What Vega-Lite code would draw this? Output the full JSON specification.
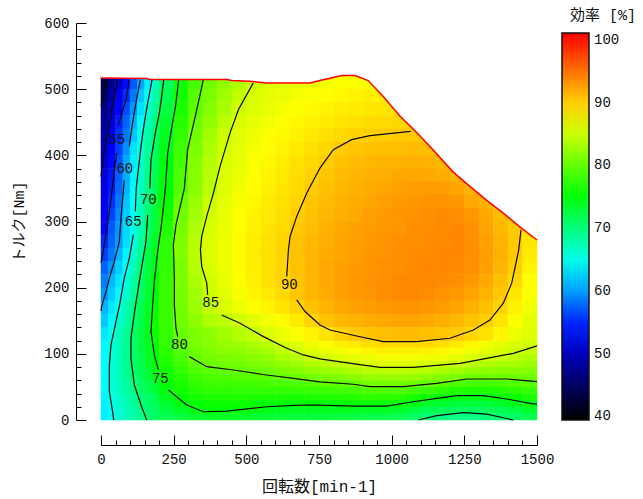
{"$schema":"https://vega.github.io/schema/vega-lite/v6.json","width":436,"height":397,"autosize":{"type":"none"},"padding":{"left":101,"top":23,"right":106,"bottom":79},"background":"white","config":{"view":{"stroke":null},"font":"Liberation Mono, Noto Sans CJK JP"},
"datasets":{
"fine":[
{"x":12.5,"y":510,"e":43.5},{"x":37.5,"y":510,"e":47.4},{"x":62.5,"y":510,"e":50.7},{"x":87.5,"y":510,"e":53.8},{"x":112.5,"y":510,"e":57},{"x":137.5,"y":510,"e":60.3},{"x":162.5,"y":510,"e":63.4},{"x":187.5,"y":510,"e":66.5},
{"x":12.5,"y":490,"e":45.3},{"x":37.5,"y":490,"e":48.7},{"x":62.5,"y":490,"e":52},{"x":87.5,"y":490,"e":55.2},{"x":112.5,"y":490,"e":58.4},{"x":137.5,"y":490,"e":61.5},{"x":162.5,"y":490,"e":64.7},{"x":187.5,"y":490,"e":67.7},
{"x":12.5,"y":470,"e":46.6},{"x":37.5,"y":470,"e":50},{"x":62.5,"y":470,"e":53.4},{"x":87.5,"y":470,"e":56.5},{"x":112.5,"y":470,"e":59.6},{"x":137.5,"y":470,"e":62.8},{"x":162.5,"y":470,"e":65.9},{"x":187.5,"y":470,"e":68.9},
{"x":12.5,"y":450,"e":47.5},{"x":37.5,"y":450,"e":51},{"x":62.5,"y":450,"e":54.6},{"x":87.5,"y":450,"e":57.6},{"x":112.5,"y":450,"e":60.6},{"x":137.5,"y":450,"e":63.8},{"x":162.5,"y":450,"e":66.9},{"x":187.5,"y":450,"e":69.7},
{"x":12.5,"y":430,"e":48.7},{"x":37.5,"y":430,"e":52.2},{"x":62.5,"y":430,"e":55.5},{"x":87.5,"y":430,"e":58.5},{"x":112.5,"y":430,"e":61.6},{"x":137.5,"y":430,"e":65.2},{"x":162.5,"y":430,"e":67.9},{"x":187.5,"y":430,"e":70.5},
{"x":12.5,"y":410,"e":50},{"x":37.5,"y":410,"e":53},{"x":62.5,"y":410,"e":56},{"x":87.5,"y":410,"e":59.4},{"x":112.5,"y":410,"e":62.7},{"x":137.5,"y":410,"e":65.8},{"x":162.5,"y":410,"e":68.5},{"x":187.5,"y":410,"e":71},
{"x":12.5,"y":390,"e":51},{"x":37.5,"y":390,"e":53.6},{"x":62.5,"y":390,"e":56.8},{"x":87.5,"y":390,"e":60.3},{"x":112.5,"y":390,"e":63.3},{"x":137.5,"y":390,"e":66.3},{"x":162.5,"y":390,"e":69},{"x":187.5,"y":390,"e":71.5},
{"x":12.5,"y":370,"e":51.4},{"x":37.5,"y":370,"e":54.1},{"x":62.5,"y":370,"e":57.3},{"x":87.5,"y":370,"e":60.6},{"x":112.5,"y":370,"e":63.6},{"x":137.5,"y":370,"e":66.5},{"x":162.5,"y":370,"e":69.3},{"x":187.5,"y":370,"e":71.8},
{"x":12.5,"y":350,"e":51.8},{"x":37.5,"y":350,"e":54.5},{"x":62.5,"y":350,"e":57.8},{"x":87.5,"y":350,"e":61},{"x":112.5,"y":350,"e":63.9},{"x":137.5,"y":350,"e":66.7},{"x":162.5,"y":350,"e":69.5},{"x":187.5,"y":350,"e":72},
{"x":12.5,"y":330,"e":52.3},{"x":37.5,"y":330,"e":55.4},{"x":62.5,"y":330,"e":58.5},{"x":87.5,"y":330,"e":61.5},{"x":112.5,"y":330,"e":64.2},{"x":137.5,"y":330,"e":67},{"x":162.5,"y":330,"e":70},{"x":187.5,"y":330,"e":72.5},
{"x":12.5,"y":310,"e":53},{"x":37.5,"y":310,"e":56.2},{"x":62.5,"y":310,"e":59.2},{"x":87.5,"y":310,"e":61.9},{"x":112.5,"y":310,"e":64.4},{"x":137.5,"y":310,"e":67.3},{"x":162.5,"y":310,"e":70.3},{"x":187.5,"y":310,"e":72.7},
{"x":12.5,"y":290,"e":53.6},{"x":37.5,"y":290,"e":57},{"x":62.5,"y":290,"e":59.7},{"x":87.5,"y":290,"e":62.3},{"x":112.5,"y":290,"e":64.9},{"x":137.5,"y":290,"e":67.8},{"x":162.5,"y":290,"e":70.7},{"x":187.5,"y":290,"e":73.1},
{"x":12.5,"y":270,"e":55},{"x":37.5,"y":270,"e":57.5},{"x":62.5,"y":270,"e":60},{"x":87.5,"y":270,"e":62.6},{"x":112.5,"y":270,"e":65.2},{"x":137.5,"y":270,"e":68.2},{"x":162.5,"y":270,"e":71},{"x":187.5,"y":270,"e":73.7},
{"x":12.5,"y":250,"e":56},{"x":37.5,"y":250,"e":58.5},{"x":62.5,"y":250,"e":61},{"x":87.5,"y":250,"e":63.6},{"x":112.5,"y":250,"e":66},{"x":137.5,"y":250,"e":69},{"x":162.5,"y":250,"e":72},{"x":187.5,"y":250,"e":74.5},
{"x":12.5,"y":230,"e":57.5},{"x":37.5,"y":230,"e":59.8},{"x":62.5,"y":230,"e":62},{"x":87.5,"y":230,"e":64.3},{"x":112.5,"y":230,"e":67.2},{"x":137.5,"y":230,"e":70.2},{"x":162.5,"y":230,"e":72.5},{"x":187.5,"y":230,"e":74.8},
{"x":12.5,"y":210,"e":58.7},{"x":37.5,"y":210,"e":61},{"x":62.5,"y":210,"e":63},{"x":87.5,"y":210,"e":65.3},{"x":112.5,"y":210,"e":68},{"x":137.5,"y":210,"e":70.7},{"x":162.5,"y":210,"e":73},{"x":187.5,"y":210,"e":75.2},
{"x":12.5,"y":190,"e":59.8},{"x":37.5,"y":190,"e":61.8},{"x":62.5,"y":190,"e":63.8},{"x":87.5,"y":190,"e":66},{"x":112.5,"y":190,"e":68.7},{"x":137.5,"y":190,"e":71.1},{"x":162.5,"y":190,"e":73.4},{"x":187.5,"y":190,"e":75.5},
{"x":12.5,"y":170,"e":60.9},{"x":37.5,"y":170,"e":63},{"x":62.5,"y":170,"e":65},{"x":87.5,"y":170,"e":67.3},{"x":112.5,"y":170,"e":69.6},{"x":137.5,"y":170,"e":71.7},{"x":162.5,"y":170,"e":73.9},{"x":187.5,"y":170,"e":75.8},
{"x":12.5,"y":150,"e":61.9},{"x":37.5,"y":150,"e":63.8},{"x":62.5,"y":150,"e":65.9},{"x":87.5,"y":150,"e":68},{"x":112.5,"y":150,"e":70.2},{"x":137.5,"y":150,"e":72.2},{"x":162.5,"y":150,"e":74.2},{"x":187.5,"y":150,"e":76},
{"x":12.5,"y":130,"e":63},{"x":37.5,"y":130,"e":64.9},{"x":62.5,"y":130,"e":66.9},{"x":87.5,"y":130,"e":68.8},{"x":112.5,"y":130,"e":70.6},{"x":137.5,"y":130,"e":72.4},{"x":162.5,"y":130,"e":74.2},{"x":187.5,"y":130,"e":76},
{"x":12.5,"y":110,"e":63.8},{"x":37.5,"y":110,"e":65.4},{"x":62.5,"y":110,"e":67.2},{"x":87.5,"y":110,"e":68.9},{"x":112.5,"y":110,"e":70.7},{"x":137.5,"y":110,"e":72.4},{"x":162.5,"y":110,"e":74},{"x":187.5,"y":110,"e":75.7},
{"x":12.5,"y":90,"e":63.9},{"x":37.5,"y":90,"e":65.6},{"x":62.5,"y":90,"e":67.3},{"x":87.5,"y":90,"e":69},{"x":112.5,"y":90,"e":70.6},{"x":137.5,"y":90,"e":72.1},{"x":162.5,"y":90,"e":73.6},{"x":187.5,"y":90,"e":75.1},
{"x":12.5,"y":70,"e":63.9},{"x":37.5,"y":70,"e":65.6},{"x":62.5,"y":70,"e":67.2},{"x":87.5,"y":70,"e":68.8},{"x":112.5,"y":70,"e":70.3},{"x":137.5,"y":70,"e":71.7},{"x":162.5,"y":70,"e":73},{"x":187.5,"y":70,"e":74.4},
{"x":12.5,"y":50,"e":63.9},{"x":37.5,"y":50,"e":65.4},{"x":62.5,"y":50,"e":66.8},{"x":87.5,"y":50,"e":68.2},{"x":112.5,"y":50,"e":69.7},{"x":137.5,"y":50,"e":70.9},{"x":162.5,"y":50,"e":72.1},{"x":187.5,"y":50,"e":73.2},
{"x":12.5,"y":30,"e":63.5},{"x":37.5,"y":30,"e":65},{"x":62.5,"y":30,"e":66.3},{"x":87.5,"y":30,"e":67.5},{"x":112.5,"y":30,"e":68.8},{"x":137.5,"y":30,"e":70},{"x":162.5,"y":30,"e":70.9},{"x":187.5,"y":30,"e":71.7},
{"x":12.5,"y":10,"e":63.4},{"x":37.5,"y":10,"e":64.7},{"x":62.5,"y":10,"e":65.9},{"x":87.5,"y":10,"e":67},{"x":112.5,"y":10,"e":68},{"x":137.5,"y":10,"e":69.3},{"x":162.5,"y":10,"e":70.4},{"x":187.5,"y":10,"e":71}
],
"low":[
{"x":225,"y":5,"e":71.9},{"x":225,"y":15,"e":72.6},{"x":225,"y":25,"e":73.3},{"x":225,"y":35,"e":74.1},{"x":225,"y":45,"e":74.8},{"x":225,"y":55,"e":75.4},{"x":225,"y":65,"e":75.9},{"x":225,"y":75,"e":76.3},{"x":225,"y":85,"e":76.7},{"x":225,"y":95,"e":77},{"x":225,"y":105,"e":77.4},{"x":225,"y":115,"e":77.7},
{"x":275,"y":5,"e":72.6},{"x":275,"y":15,"e":73.7},{"x":275,"y":25,"e":74.8},{"x":275,"y":35,"e":75.4},{"x":275,"y":45,"e":76},{"x":275,"y":55,"e":76.6},{"x":275,"y":65,"e":77.1},{"x":275,"y":75,"e":77.7},{"x":275,"y":85,"e":78.3},{"x":275,"y":95,"e":78.8},{"x":275,"y":105,"e":79.4},{"x":275,"y":115,"e":80},
{"x":325,"y":5,"e":73.3},{"x":325,"y":15,"e":74.8},{"x":325,"y":25,"e":75.6},{"x":325,"y":35,"e":76.3},{"x":325,"y":45,"e":77},{"x":325,"y":55,"e":77.6},{"x":325,"y":65,"e":78.3},{"x":325,"y":75,"e":79},{"x":325,"y":85,"e":79.7},{"x":325,"y":95,"e":80.2},{"x":325,"y":105,"e":80.6},{"x":325,"y":115,"e":81},
{"x":375,"y":5,"e":73.8},{"x":375,"y":15,"e":75.2},{"x":375,"y":25,"e":75.9},{"x":375,"y":35,"e":76.7},{"x":375,"y":45,"e":77.4},{"x":375,"y":55,"e":78.2},{"x":375,"y":65,"e":78.9},{"x":375,"y":75,"e":79.7},{"x":375,"y":85,"e":80.3},{"x":375,"y":95,"e":80.8},{"x":375,"y":105,"e":81.3},{"x":375,"y":115,"e":81.8},
{"x":425,"y":5,"e":73.8},{"x":425,"y":15,"e":75.2},{"x":425,"y":25,"e":75.9},{"x":425,"y":35,"e":76.7},{"x":425,"y":45,"e":77.5},{"x":425,"y":55,"e":78.3},{"x":425,"y":65,"e":79.1},{"x":425,"y":75,"e":79.9},{"x":425,"y":85,"e":80.6},{"x":425,"y":95,"e":81.2},{"x":425,"y":105,"e":81.9},{"x":425,"y":115,"e":82.4},
{"x":475,"y":5,"e":73.7},{"x":475,"y":15,"e":75.1},{"x":475,"y":25,"e":76},{"x":475,"y":35,"e":76.8},{"x":475,"y":45,"e":77.6},{"x":475,"y":55,"e":78.4},{"x":475,"y":65,"e":79.3},{"x":475,"y":75,"e":80.1},{"x":475,"y":85,"e":80.8},{"x":475,"y":95,"e":81.4},{"x":475,"y":105,"e":82.1},{"x":475,"y":115,"e":82.8},
{"x":525,"y":5,"e":73.5},{"x":525,"y":15,"e":74.9},{"x":525,"y":25,"e":75.8},{"x":525,"y":35,"e":76.7},{"x":525,"y":45,"e":77.6},{"x":525,"y":55,"e":78.5},{"x":525,"y":65,"e":79.5},{"x":525,"y":75,"e":80.3},{"x":525,"y":85,"e":81.1},{"x":525,"y":95,"e":81.8},{"x":525,"y":105,"e":82.6},{"x":525,"y":115,"e":83.4},
{"x":575,"y":5,"e":73.1},{"x":575,"y":15,"e":74.4},{"x":575,"y":25,"e":75.5},{"x":575,"y":35,"e":76.6},{"x":575,"y":45,"e":77.6},{"x":575,"y":55,"e":78.6},{"x":575,"y":65,"e":79.7},{"x":575,"y":75,"e":80.6},{"x":575,"y":85,"e":81.5},{"x":575,"y":95,"e":82.4},{"x":575,"y":105,"e":83.2},{"x":575,"y":115,"e":84.1},
{"x":625,"y":5,"e":72.9},{"x":625,"y":15,"e":74.2},{"x":625,"y":25,"e":75.4},{"x":625,"y":35,"e":76.6},{"x":625,"y":45,"e":77.7},{"x":625,"y":55,"e":78.9},{"x":625,"y":65,"e":80.1},{"x":625,"y":75,"e":81.1},{"x":625,"y":85,"e":82.2},{"x":625,"y":95,"e":83.3},{"x":625,"y":105,"e":84.3},{"x":625,"y":115,"e":85.3},
{"x":675,"y":5,"e":72.8},{"x":675,"y":15,"e":74},{"x":675,"y":25,"e":75.3},{"x":675,"y":35,"e":76.5},{"x":675,"y":45,"e":77.8},{"x":675,"y":55,"e":79},{"x":675,"y":65,"e":80.3},{"x":675,"y":75,"e":81.5},{"x":675,"y":85,"e":82.8},{"x":675,"y":95,"e":84.1},{"x":675,"y":105,"e":85.2},{"x":675,"y":115,"e":85.9},
{"x":725,"y":5,"e":72.7},{"x":725,"y":15,"e":74},{"x":725,"y":25,"e":75.3},{"x":725,"y":35,"e":76.7},{"x":725,"y":45,"e":78},{"x":725,"y":55,"e":79.3},{"x":725,"y":65,"e":80.7},{"x":725,"y":75,"e":82.1},{"x":725,"y":85,"e":83.6},{"x":725,"y":95,"e":85},{"x":725,"y":105,"e":85.8},{"x":725,"y":115,"e":86.7},
{"x":775,"y":5,"e":72.7},{"x":775,"y":15,"e":74},{"x":775,"y":25,"e":75.3},{"x":775,"y":35,"e":76.8},{"x":775,"y":45,"e":78.2},{"x":775,"y":55,"e":79.7},{"x":775,"y":65,"e":81.1},{"x":775,"y":75,"e":82.6},{"x":775,"y":85,"e":84.1},{"x":775,"y":95,"e":85.4},{"x":775,"y":105,"e":86.4},{"x":775,"y":115,"e":87.5},
{"x":825,"y":5,"e":72.5},{"x":825,"y":15,"e":74},{"x":825,"y":25,"e":75.4},{"x":825,"y":35,"e":76.9},{"x":825,"y":45,"e":78.4},{"x":825,"y":55,"e":79.8},{"x":825,"y":65,"e":81.4},{"x":825,"y":75,"e":83},{"x":825,"y":85,"e":84.7},{"x":825,"y":95,"e":85.9},{"x":825,"y":105,"e":87},{"x":825,"y":115,"e":88.2},
{"x":875,"y":5,"e":72.3},{"x":875,"y":15,"e":74},{"x":875,"y":25,"e":75.6},{"x":875,"y":35,"e":77.1},{"x":875,"y":45,"e":78.6},{"x":875,"y":55,"e":80.2},{"x":875,"y":65,"e":81.9},{"x":875,"y":75,"e":83.6},{"x":875,"y":85,"e":85.2},{"x":875,"y":95,"e":86.3},{"x":875,"y":105,"e":87.5},{"x":875,"y":115,"e":88.6},
{"x":925,"y":5,"e":72.1},{"x":925,"y":15,"e":73.9},{"x":925,"y":25,"e":75.7},{"x":925,"y":35,"e":77.4},{"x":925,"y":45,"e":79.1},{"x":925,"y":55,"e":80.8},{"x":925,"y":65,"e":82.4},{"x":925,"y":75,"e":84.1},{"x":925,"y":85,"e":85.5},{"x":925,"y":95,"e":86.7},{"x":925,"y":105,"e":87.9},{"x":925,"y":115,"e":89.1},
{"x":975,"y":5,"e":72},{"x":975,"y":15,"e":73.9},{"x":975,"y":25,"e":75.7},{"x":975,"y":35,"e":77.4},{"x":975,"y":45,"e":79.1},{"x":975,"y":55,"e":80.8},{"x":975,"y":65,"e":82.5},{"x":975,"y":75,"e":84.3},{"x":975,"y":85,"e":85.7},{"x":975,"y":95,"e":87},{"x":975,"y":105,"e":88.3},{"x":975,"y":115,"e":89.5},
{"x":1025,"y":5,"e":71.5},{"x":1025,"y":15,"e":73.6},{"x":1025,"y":25,"e":75.5},{"x":1025,"y":35,"e":77.3},{"x":1025,"y":45,"e":79.1},{"x":1025,"y":55,"e":80.8},{"x":1025,"y":65,"e":82.5},{"x":1025,"y":75,"e":84.3},{"x":1025,"y":85,"e":85.7},{"x":1025,"y":95,"e":87},{"x":1025,"y":105,"e":88.3},{"x":1025,"y":115,"e":89.5},
{"x":1075,"y":5,"e":70.9},{"x":1075,"y":15,"e":72.7},{"x":1075,"y":25,"e":74.5},{"x":1075,"y":35,"e":76.5},{"x":1075,"y":45,"e":78.6},{"x":1075,"y":55,"e":80.6},{"x":1075,"y":65,"e":82.4},{"x":1075,"y":75,"e":84.2},{"x":1075,"y":85,"e":85.7},{"x":1075,"y":95,"e":87},{"x":1075,"y":105,"e":88.3},{"x":1075,"y":115,"e":89.5},
{"x":1125,"y":5,"e":70.1},{"x":1125,"y":15,"e":71.8},{"x":1125,"y":25,"e":73.7},{"x":1125,"y":35,"e":75.9},{"x":1125,"y":45,"e":78.1},{"x":1125,"y":55,"e":80.2},{"x":1125,"y":65,"e":82},{"x":1125,"y":75,"e":83.9},{"x":1125,"y":85,"e":85.5},{"x":1125,"y":95,"e":86.8},{"x":1125,"y":105,"e":88.1},{"x":1125,"y":115,"e":89.4},
{"x":1175,"y":5,"e":69.7},{"x":1175,"y":15,"e":71.5},{"x":1175,"y":25,"e":73.3},{"x":1175,"y":35,"e":75.2},{"x":1175,"y":45,"e":77.4},{"x":1175,"y":55,"e":79.6},{"x":1175,"y":65,"e":81.6},{"x":1175,"y":75,"e":83.5},{"x":1175,"y":85,"e":85.3},{"x":1175,"y":95,"e":86.6},{"x":1175,"y":105,"e":87.8},{"x":1175,"y":115,"e":89.1},
{"x":1225,"y":5,"e":69.4},{"x":1225,"y":15,"e":71.2},{"x":1225,"y":25,"e":72.9},{"x":1225,"y":35,"e":74.8},{"x":1225,"y":45,"e":76.8},{"x":1225,"y":55,"e":78.9},{"x":1225,"y":65,"e":81},{"x":1225,"y":75,"e":82.9},{"x":1225,"y":85,"e":84.9},{"x":1225,"y":95,"e":86.1},{"x":1225,"y":105,"e":87.3},{"x":1225,"y":115,"e":88.5},
{"x":1275,"y":5,"e":69.4},{"x":1275,"y":15,"e":71},{"x":1275,"y":25,"e":72.8},{"x":1275,"y":35,"e":74.5},{"x":1275,"y":45,"e":76.6},{"x":1275,"y":55,"e":78.6},{"x":1275,"y":65,"e":80.6},{"x":1275,"y":75,"e":82.4},{"x":1275,"y":85,"e":84.3},{"x":1275,"y":95,"e":85.7},{"x":1275,"y":105,"e":86.8},{"x":1275,"y":115,"e":87.9},
{"x":1325,"y":5,"e":69.8},{"x":1325,"y":15,"e":71.3},{"x":1325,"y":25,"e":72.9},{"x":1325,"y":35,"e":74.7},{"x":1325,"y":45,"e":76.7},{"x":1325,"y":55,"e":78.6},{"x":1325,"y":65,"e":80.5},{"x":1325,"y":75,"e":82.1},{"x":1325,"y":85,"e":83.7},{"x":1325,"y":95,"e":85.2},{"x":1325,"y":105,"e":86.1},{"x":1325,"y":115,"e":86.9},
{"x":1375,"y":5,"e":70.3},{"x":1375,"y":15,"e":71.8},{"x":1375,"y":25,"e":73.5},{"x":1375,"y":35,"e":75.4},{"x":1375,"y":45,"e":77.1},{"x":1375,"y":55,"e":78.8},{"x":1375,"y":65,"e":80.5},{"x":1375,"y":75,"e":81.9},{"x":1375,"y":85,"e":83.3},{"x":1375,"y":95,"e":84.7},{"x":1375,"y":105,"e":85.5},{"x":1375,"y":115,"e":86.2},
{"x":1425,"y":5,"e":70.9},{"x":1425,"y":15,"e":72.4},{"x":1425,"y":25,"e":74},{"x":1425,"y":35,"e":75.8},{"x":1425,"y":45,"e":77.4},{"x":1425,"y":55,"e":79.1},{"x":1425,"y":65,"e":80.5},{"x":1425,"y":75,"e":81.8},{"x":1425,"y":85,"e":83.1},{"x":1425,"y":95,"e":84.3},{"x":1425,"y":105,"e":85.2},{"x":1425,"y":115,"e":85.6},
{"x":1475,"y":5,"e":71.8},{"x":1475,"y":15,"e":73.4},{"x":1475,"y":25,"e":75},{"x":1475,"y":35,"e":76.5},{"x":1475,"y":45,"e":78},{"x":1475,"y":55,"e":79.5},{"x":1475,"y":65,"e":80.6},{"x":1475,"y":75,"e":81.6},{"x":1475,"y":85,"e":82.7},{"x":1475,"y":95,"e":83.7},{"x":1475,"y":105,"e":84.8},{"x":1475,"y":115,"e":85.3}
],
"up":[
{"x":225,"y":510,"e":71},{"x":275,"y":510,"e":76},{"x":325,"y":510,"e":78.5},{"x":375,"y":510,"e":80.7},{"x":425,"y":510,"e":82.2},{"x":475,"y":510,"e":83.6},{"x":525,"y":510,"e":85},{"x":575,"y":510,"e":85.6},{"x":625,"y":510,"e":86},{"x":675,"y":510,"e":86.3},{"x":725,"y":510,"e":86.6},{"x":775,"y":510,"e":86.9},{"x":825,"y":510,"e":87.2},{"x":875,"y":510,"e":87.2},{"x":925,"y":510,"e":87.5},
{"x":225,"y":490,"e":71.8},{"x":275,"y":490,"e":76.2},{"x":325,"y":490,"e":79.4},{"x":375,"y":490,"e":81.2},{"x":425,"y":490,"e":82.9},{"x":475,"y":490,"e":84.5},{"x":525,"y":490,"e":85.5},{"x":575,"y":490,"e":86.1},{"x":625,"y":490,"e":86.5},{"x":675,"y":490,"e":86.9},{"x":725,"y":490,"e":87.2},{"x":775,"y":490,"e":87.5},{"x":825,"y":490,"e":87.8},{"x":875,"y":490,"e":88},{"x":925,"y":490,"e":88.2},{"x":975,"y":490,"e":88.3},
{"x":225,"y":470,"e":72.6},{"x":275,"y":470,"e":76.6},{"x":325,"y":470,"e":79.7},{"x":375,"y":470,"e":81.6},{"x":425,"y":470,"e":83.3},{"x":475,"y":470,"e":85.1},{"x":525,"y":470,"e":85.8},{"x":575,"y":470,"e":86.4},{"x":625,"y":470,"e":86.9},{"x":675,"y":470,"e":87.3},{"x":725,"y":470,"e":87.7},{"x":775,"y":470,"e":88},{"x":825,"y":470,"e":88.3},{"x":875,"y":470,"e":88.5},{"x":925,"y":470,"e":88.7},{"x":975,"y":470,"e":88.8},{"x":1025,"y":470,"e":88.9},
{"x":225,"y":450,"e":73.3},{"x":275,"y":450,"e":77.1},{"x":325,"y":450,"e":80.3},{"x":375,"y":450,"e":82.2},{"x":425,"y":450,"e":84.2},{"x":475,"y":450,"e":85.6},{"x":525,"y":450,"e":86.2},{"x":575,"y":450,"e":86.8},{"x":625,"y":450,"e":87.3},{"x":675,"y":450,"e":87.8},{"x":725,"y":450,"e":88.1},{"x":775,"y":450,"e":88.5},{"x":825,"y":450,"e":88.8},{"x":875,"y":450,"e":89},{"x":925,"y":450,"e":89.3},{"x":975,"y":450,"e":89.4},{"x":1025,"y":450,"e":89.5},{"x":1075,"y":450,"e":89.6},
{"x":225,"y":430,"e":74},{"x":275,"y":430,"e":77.8},{"x":325,"y":430,"e":80.8},{"x":375,"y":430,"e":83},{"x":425,"y":430,"e":85.1},{"x":475,"y":430,"e":85.9},{"x":525,"y":430,"e":86.6},{"x":575,"y":430,"e":87.2},{"x":625,"y":430,"e":87.7},{"x":675,"y":430,"e":88.1},{"x":725,"y":430,"e":88.6},{"x":775,"y":430,"e":89},{"x":825,"y":430,"e":89.4},{"x":875,"y":430,"e":89.8},{"x":925,"y":430,"e":90},{"x":975,"y":430,"e":90.1},{"x":1025,"y":430,"e":90.2},{"x":1075,"y":430,"e":90.3},{"x":1125,"y":430,"e":90.3},
{"x":225,"y":410,"e":74.4},{"x":275,"y":410,"e":78.3},{"x":325,"y":410,"e":81.2},{"x":375,"y":410,"e":83.4},{"x":425,"y":410,"e":85.3},{"x":475,"y":410,"e":86.1},{"x":525,"y":410,"e":86.9},{"x":575,"y":410,"e":87.5},{"x":625,"y":410,"e":88},{"x":675,"y":410,"e":88.6},{"x":725,"y":410,"e":89},{"x":775,"y":410,"e":89.5},{"x":825,"y":410,"e":90.2},{"x":875,"y":410,"e":90.5},{"x":925,"y":410,"e":90.7},{"x":975,"y":410,"e":90.8},{"x":1025,"y":410,"e":90.9},{"x":1075,"y":410,"e":91},{"x":1125,"y":410,"e":90.9},{"x":1175,"y":410,"e":90.6},
{"x":225,"y":390,"e":74.9},{"x":275,"y":390,"e":78.6},{"x":325,"y":390,"e":81.5},{"x":375,"y":390,"e":83.8},{"x":425,"y":390,"e":85.5},{"x":475,"y":390,"e":86.2},{"x":525,"y":390,"e":87.1},{"x":575,"y":390,"e":87.7},{"x":625,"y":390,"e":88.3},{"x":675,"y":390,"e":89},{"x":725,"y":390,"e":89.5},{"x":775,"y":390,"e":90.1},{"x":825,"y":390,"e":90.6},{"x":875,"y":390,"e":91},{"x":925,"y":390,"e":91.2},{"x":975,"y":390,"e":91.4},{"x":1025,"y":390,"e":91.5},{"x":1075,"y":390,"e":91.6},{"x":1125,"y":390,"e":91.5},{"x":1175,"y":390,"e":91.2},{"x":1225,"y":390,"e":90.9},
{"x":225,"y":370,"e":75.1},{"x":275,"y":370,"e":78.9},{"x":325,"y":370,"e":81.7},{"x":375,"y":370,"e":84},{"x":425,"y":370,"e":85.7},{"x":475,"y":370,"e":86.4},{"x":525,"y":370,"e":87.2},{"x":575,"y":370,"e":88},{"x":625,"y":370,"e":88.6},{"x":675,"y":370,"e":89.2},{"x":725,"y":370,"e":89.8},{"x":775,"y":370,"e":90.5},{"x":825,"y":370,"e":91},{"x":875,"y":370,"e":91.3},{"x":925,"y":370,"e":91.6},{"x":975,"y":370,"e":91.8},{"x":1025,"y":370,"e":92},{"x":1075,"y":370,"e":92.1},{"x":1125,"y":370,"e":92.1},{"x":1175,"y":370,"e":91.9},{"x":1225,"y":370,"e":91.4},{"x":1275,"y":370,"e":91},
{"x":225,"y":350,"e":75.2},{"x":275,"y":350,"e":79.1},{"x":325,"y":350,"e":81.8},{"x":375,"y":350,"e":84.3},{"x":425,"y":350,"e":85.8},{"x":475,"y":350,"e":86.7},{"x":525,"y":350,"e":87.5},{"x":575,"y":350,"e":88.2},{"x":625,"y":350,"e":88.8},{"x":675,"y":350,"e":89.4},{"x":725,"y":350,"e":90.2},{"x":775,"y":350,"e":90.8},{"x":825,"y":350,"e":91.2},{"x":875,"y":350,"e":91.6},{"x":925,"y":350,"e":91.9},{"x":975,"y":350,"e":92.2},{"x":1025,"y":350,"e":92.4},{"x":1075,"y":350,"e":92.6},{"x":1125,"y":350,"e":92.7},{"x":1175,"y":350,"e":92.6},{"x":1225,"y":350,"e":92.2},{"x":1275,"y":350,"e":91.6},{"x":1325,"y":350,"e":90.8},
{"x":225,"y":330,"e":75.7},{"x":275,"y":330,"e":80.1},{"x":325,"y":330,"e":82.5},{"x":375,"y":330,"e":84.9},{"x":425,"y":330,"e":86.1},{"x":475,"y":330,"e":87},{"x":525,"y":330,"e":87.8},{"x":575,"y":330,"e":88.5},{"x":625,"y":330,"e":89},{"x":675,"y":330,"e":89.7},{"x":725,"y":330,"e":90.5},{"x":775,"y":330,"e":91},{"x":825,"y":330,"e":91.5},{"x":875,"y":330,"e":91.9},{"x":925,"y":330,"e":92.2},{"x":975,"y":330,"e":92.5},{"x":1025,"y":330,"e":92.8},{"x":1075,"y":330,"e":93},{"x":1125,"y":330,"e":93.2},{"x":1175,"y":330,"e":93.2},{"x":1225,"y":330,"e":93},{"x":1275,"y":330,"e":92.2},{"x":1325,"y":330,"e":91.5},{"x":1375,"y":330,"e":90.5},
{"x":225,"y":310,"e":76.3},{"x":275,"y":310,"e":80.6},{"x":325,"y":310,"e":83},{"x":375,"y":310,"e":85.3},{"x":425,"y":310,"e":86.3},{"x":475,"y":310,"e":87.2},{"x":525,"y":310,"e":88},{"x":575,"y":310,"e":88.6},{"x":625,"y":310,"e":89.2},{"x":675,"y":310,"e":90},{"x":725,"y":310,"e":90.7},{"x":775,"y":310,"e":91.2},{"x":825,"y":310,"e":91.7},{"x":875,"y":310,"e":92.1},{"x":925,"y":310,"e":92.5},{"x":975,"y":310,"e":92.8},{"x":1025,"y":310,"e":93},{"x":1075,"y":310,"e":93.2},{"x":1125,"y":310,"e":93.4},{"x":1175,"y":310,"e":93.6},{"x":1225,"y":310,"e":93.5},{"x":1275,"y":310,"e":93},{"x":1325,"y":310,"e":92},{"x":1375,"y":310,"e":91},{"x":1425,"y":310,"e":90},
{"x":225,"y":290,"e":76.9},{"x":275,"y":290,"e":81},{"x":325,"y":290,"e":83.6},{"x":375,"y":290,"e":85.5},{"x":425,"y":290,"e":86.4},{"x":475,"y":290,"e":87.3},{"x":525,"y":290,"e":88.1},{"x":575,"y":290,"e":88.8},{"x":625,"y":290,"e":89.4},{"x":675,"y":290,"e":90.3},{"x":725,"y":290,"e":90.9},{"x":775,"y":290,"e":91.5},{"x":825,"y":290,"e":92},{"x":875,"y":290,"e":92.4},{"x":925,"y":290,"e":92.7},{"x":975,"y":290,"e":93},{"x":1025,"y":290,"e":93.1},{"x":1075,"y":290,"e":93.4},{"x":1125,"y":290,"e":93.5},{"x":1175,"y":290,"e":93.7},{"x":1225,"y":290,"e":93.8},{"x":1275,"y":290,"e":93.3},{"x":1325,"y":290,"e":92.3},{"x":1375,"y":290,"e":91.2},{"x":1425,"y":290,"e":90.2},{"x":1475,"y":290,"e":88.9},
{"x":225,"y":270,"e":77.5},{"x":275,"y":270,"e":81.3},{"x":325,"y":270,"e":84},{"x":375,"y":270,"e":85.6},{"x":425,"y":270,"e":86.6},{"x":475,"y":270,"e":87.5},{"x":525,"y":270,"e":88.3},{"x":575,"y":270,"e":89},{"x":625,"y":270,"e":89.6},{"x":675,"y":270,"e":90.6},{"x":725,"y":270,"e":91.2},{"x":775,"y":270,"e":91.7},{"x":825,"y":270,"e":92.2},{"x":875,"y":270,"e":92.6},{"x":925,"y":270,"e":92.9},{"x":975,"y":270,"e":93.1},{"x":1025,"y":270,"e":93.3},{"x":1075,"y":270,"e":93.5},{"x":1125,"y":270,"e":93.6},{"x":1175,"y":270,"e":93.7},{"x":1225,"y":270,"e":93.8},{"x":1275,"y":270,"e":93.4},{"x":1325,"y":270,"e":92.5},{"x":1375,"y":270,"e":91.5},{"x":1425,"y":270,"e":90.3},{"x":1475,"y":270,"e":88.8},
{"x":225,"y":250,"e":77.5},{"x":275,"y":250,"e":81.4},{"x":325,"y":250,"e":84.1},{"x":375,"y":250,"e":85.6},{"x":425,"y":250,"e":86.6},{"x":475,"y":250,"e":87.6},{"x":525,"y":250,"e":88.4},{"x":575,"y":250,"e":89},{"x":625,"y":250,"e":89.7},{"x":675,"y":250,"e":90.6},{"x":725,"y":250,"e":91.3},{"x":775,"y":250,"e":91.9},{"x":825,"y":250,"e":92.3},{"x":875,"y":250,"e":92.7},{"x":925,"y":250,"e":93},{"x":975,"y":250,"e":93.2},{"x":1025,"y":250,"e":93.4},{"x":1075,"y":250,"e":93.6},{"x":1125,"y":250,"e":93.7},{"x":1175,"y":250,"e":93.8},{"x":1225,"y":250,"e":93.8},{"x":1275,"y":250,"e":93.4},{"x":1325,"y":250,"e":92.6},{"x":1375,"y":250,"e":91.6},{"x":1425,"y":250,"e":90.2},{"x":1475,"y":250,"e":88.5},
{"x":225,"y":230,"e":77.8},{"x":275,"y":230,"e":81.2},{"x":325,"y":230,"e":83.9},{"x":375,"y":230,"e":85.5},{"x":425,"y":230,"e":86.5},{"x":475,"y":230,"e":87.5},{"x":525,"y":230,"e":88.3},{"x":575,"y":230,"e":89},{"x":625,"y":230,"e":89.7},{"x":675,"y":230,"e":90.7},{"x":725,"y":230,"e":91.4},{"x":775,"y":230,"e":92},{"x":825,"y":230,"e":92.4},{"x":875,"y":230,"e":92.8},{"x":925,"y":230,"e":93.1},{"x":975,"y":230,"e":93.3},{"x":1025,"y":230,"e":93.5},{"x":1075,"y":230,"e":93.7},{"x":1125,"y":230,"e":93.8},{"x":1175,"y":230,"e":93.8},{"x":1225,"y":230,"e":93.7},{"x":1275,"y":230,"e":93.3},{"x":1325,"y":230,"e":92.5},{"x":1375,"y":230,"e":91.3},{"x":1425,"y":230,"e":90},{"x":1475,"y":230,"e":88},
{"x":225,"y":210,"e":78},{"x":275,"y":210,"e":81.1},{"x":325,"y":210,"e":83.5},{"x":375,"y":210,"e":85.3},{"x":425,"y":210,"e":86.3},{"x":475,"y":210,"e":87.3},{"x":525,"y":210,"e":88.2},{"x":575,"y":210,"e":88.9},{"x":625,"y":210,"e":89.7},{"x":675,"y":210,"e":90.7},{"x":725,"y":210,"e":91.4},{"x":775,"y":210,"e":92},{"x":825,"y":210,"e":92.5},{"x":875,"y":210,"e":92.9},{"x":925,"y":210,"e":93.2},{"x":975,"y":210,"e":93.4},{"x":1025,"y":210,"e":93.7},{"x":1075,"y":210,"e":93.8},{"x":1125,"y":210,"e":93.8},{"x":1175,"y":210,"e":93.6},{"x":1225,"y":210,"e":93.4},{"x":1275,"y":210,"e":93},{"x":1325,"y":210,"e":92},{"x":1375,"y":210,"e":90.8},{"x":1425,"y":210,"e":89.4},{"x":1475,"y":210,"e":87.5},
{"x":225,"y":190,"e":78.1},{"x":275,"y":190,"e":81},{"x":325,"y":190,"e":83},{"x":375,"y":190,"e":85.1},{"x":425,"y":190,"e":86},{"x":475,"y":190,"e":87},{"x":525,"y":190,"e":87.9},{"x":575,"y":190,"e":88.6},{"x":625,"y":190,"e":89.4},{"x":675,"y":190,"e":90.4},{"x":725,"y":190,"e":91.2},{"x":775,"y":190,"e":91.9},{"x":825,"y":190,"e":92.4},{"x":875,"y":190,"e":92.8},{"x":925,"y":190,"e":93.1},{"x":975,"y":190,"e":93.4},{"x":1025,"y":190,"e":93.7},{"x":1075,"y":190,"e":93.7},{"x":1125,"y":190,"e":93.5},{"x":1175,"y":190,"e":93.2},{"x":1225,"y":190,"e":92.9},{"x":1275,"y":190,"e":92.3},{"x":1325,"y":190,"e":91.4},{"x":1375,"y":190,"e":90.3},{"x":1425,"y":190,"e":88.8},{"x":1475,"y":190,"e":87.2},
{"x":225,"y":170,"e":78.2},{"x":275,"y":170,"e":80.8},{"x":325,"y":170,"e":82.7},{"x":375,"y":170,"e":84.6},{"x":425,"y":170,"e":85.6},{"x":475,"y":170,"e":86.5},{"x":525,"y":170,"e":87.3},{"x":575,"y":170,"e":88},{"x":625,"y":170,"e":88.8},{"x":675,"y":170,"e":89.7},{"x":725,"y":170,"e":90.7},{"x":775,"y":170,"e":91.4},{"x":825,"y":170,"e":92},{"x":875,"y":170,"e":92.4},{"x":925,"y":170,"e":92.7},{"x":975,"y":170,"e":93},{"x":1025,"y":170,"e":93.2},{"x":1075,"y":170,"e":93.2},{"x":1125,"y":170,"e":93},{"x":1175,"y":170,"e":92.7},{"x":1225,"y":170,"e":92.3},{"x":1275,"y":170,"e":91.6},{"x":1325,"y":170,"e":90.8},{"x":1375,"y":170,"e":89.7},{"x":1425,"y":170,"e":88.1},{"x":1475,"y":170,"e":86.8},
{"x":225,"y":150,"e":78.2},{"x":275,"y":150,"e":80.6},{"x":325,"y":150,"e":82.1},{"x":375,"y":150,"e":83.6},{"x":425,"y":150,"e":84.3},{"x":475,"y":150,"e":85.2},{"x":525,"y":150,"e":86},{"x":575,"y":150,"e":86.8},{"x":625,"y":150,"e":87.6},{"x":675,"y":150,"e":88.5},{"x":725,"y":150,"e":89.7},{"x":775,"y":150,"e":90.6},{"x":825,"y":150,"e":91.1},{"x":875,"y":150,"e":91.5},{"x":925,"y":150,"e":91.9},{"x":975,"y":150,"e":92.1},{"x":1025,"y":150,"e":92.3},{"x":1075,"y":150,"e":92.3},{"x":1125,"y":150,"e":92.1},{"x":1175,"y":150,"e":91.7},{"x":1225,"y":150,"e":91.2},{"x":1275,"y":150,"e":90.6},{"x":1325,"y":150,"e":90},{"x":1375,"y":150,"e":88.8},{"x":1425,"y":150,"e":87.3},{"x":1475,"y":150,"e":86.3},
{"x":225,"y":130,"e":77.9},{"x":275,"y":130,"e":80.3},{"x":325,"y":130,"e":81.2},{"x":375,"y":130,"e":82},{"x":425,"y":130,"e":82.9},{"x":475,"y":130,"e":83.8},{"x":525,"y":130,"e":84.7},{"x":575,"y":130,"e":85.6},{"x":625,"y":130,"e":86.4},{"x":675,"y":130,"e":87.2},{"x":725,"y":130,"e":88},{"x":775,"y":130,"e":88.9},{"x":825,"y":130,"e":89.7},{"x":875,"y":130,"e":90.3},{"x":925,"y":130,"e":90.6},{"x":975,"y":130,"e":90.9},{"x":1025,"y":130,"e":91},{"x":1075,"y":130,"e":91},{"x":1125,"y":130,"e":90.8},{"x":1175,"y":130,"e":90.5},{"x":1225,"y":130,"e":90.2},{"x":1275,"y":130,"e":89.6},{"x":1325,"y":130,"e":88.9},{"x":1375,"y":130,"e":87.9},{"x":1425,"y":130,"e":86.6},{"x":1475,"y":130,"e":85.8}
],
"edge":[{"x":0,"y":517},{"x":158,"y":516},{"x":169,"y":514.5},{"x":433,"y":514.5},{"x":450,"y":513},{"x":512,"y":512},{"x":570,"y":509.5},{"x":719,"y":509.5},{"x":753,"y":513},{"x":777,"y":515.5},{"x":828,"y":520.5},{"x":874,"y":520.5},{"x":919,"y":513},{"x":971,"y":489},{"x":1029,"y":459},{"x":1087,"y":434},{"x":1143,"y":408},{"x":1211,"y":375},{"x":1269,"y":353},{"x":1327,"y":332},{"x":1383,"y":313},{"x":1441,"y":292},{"x":1500,"y":272}],
"lines":[
{"s":"45","i":1,"x":19.5,"y":514},{"s":"45","i":2,"x":8,"y":489},{"s":"45","i":3,"x":0,"y":474},
{"s":"50","i":1,"x":57,"y":514},{"s":"50","i":2,"x":46,"y":489},{"s":"50","i":3,"x":34,"y":464},{"s":"50","i":4,"x":23,"y":434},{"s":"50","i":5,"x":8,"y":398},{"s":"50","i":6,"x":0,"y":368},
{"s":"55a","i":1,"x":97.5,"y":514},{"s":"55a","i":2,"x":86,"y":484},{"s":"55a","i":3,"x":72,"y":464},{"s":"55a","i":4,"x":60.8,"y":446},
{"s":"55b","i":1,"x":54,"y":403.5},{"s":"55b","i":2,"x":46,"y":378},{"s":"55b","i":3,"x":40,"y":355},{"s":"55b","i":4,"x":28.7,"y":315},{"s":"55b","i":5,"x":17.2,"y":280},{"s":"55b","i":6,"x":2.3,"y":242},{"s":"55b","i":7,"x":0,"y":238},
{"s":"60a","i":1,"x":135.4,"y":514},{"s":"60a","i":2,"x":120,"y":479},{"s":"60a","i":3,"x":106.7,"y":444},{"s":"60a","i":4,"x":97.5,"y":413.6},
{"s":"60b","i":1,"x":80,"y":362},{"s":"60b","i":2,"x":68.8,"y":305},{"s":"60b","i":3,"x":63,"y":270},{"s":"60b","i":4,"x":46,"y":239.6},{"s":"60b","i":5,"x":28.7,"y":214.4},{"s":"60b","i":6,"x":17.2,"y":194},{"s":"60b","i":7,"x":2,"y":171.5},{"s":"60b","i":8,"x":0,"y":165},
{"s":"65a","i":1,"x":175.5,"y":514},{"s":"65a","i":2,"x":160.6,"y":479},{"s":"65a","i":3,"x":149,"y":449},{"s":"65a","i":4,"x":137.6,"y":413.6},{"s":"65a","i":5,"x":128.5,"y":378},{"s":"65a","i":6,"x":121,"y":350},{"s":"65a","i":7,"x":118,"y":315},
{"s":"65b","i":1,"x":111.3,"y":280},{"s":"65b","i":2,"x":97.5,"y":244.7},{"s":"65b","i":3,"x":80,"y":214.4},{"s":"65b","i":4,"x":64,"y":174},{"s":"65b","i":5,"x":51.6,"y":148.8},{"s":"65b","i":6,"x":34.4,"y":113.5},{"s":"65b","i":7,"x":28.7,"y":83},{"s":"65b","i":8,"x":28.7,"y":43},{"s":"65b","i":9,"x":40,"y":12.6},{"s":"65b","i":10,"x":43.6,"y":0},
{"s":"70a","i":1,"x":215.6,"y":514},{"s":"70a","i":2,"x":208.8,"y":489},{"s":"70a","i":3,"x":200.7,"y":464},{"s":"70a","i":4,"x":187,"y":434},{"s":"70a","i":5,"x":172,"y":393.4},{"s":"70a","i":6,"x":168,"y":350},
{"s":"70b","i":1,"x":160.6,"y":310},{"s":"70b","i":2,"x":154.8,"y":270},{"s":"70b","i":3,"x":137.6,"y":224.5},{"s":"70b","i":4,"x":119,"y":174},{"s":"70b","i":5,"x":103,"y":123.6},{"s":"70b","i":6,"x":103,"y":93},{"s":"70b","i":7,"x":114.7,"y":53},{"s":"70b","i":8,"x":137.6,"y":22.7},{"s":"70b","i":9,"x":157,"y":0},
{"s":"75a","i":1,"x":267,"y":514},{"s":"75a","i":2,"x":258,"y":479},{"s":"75a","i":3,"x":244.3,"y":444},{"s":"75a","i":4,"x":229.4,"y":403.5},{"s":"75a","i":5,"x":221.4,"y":350},{"s":"75a","i":6,"x":212,"y":310},{"s":"75a","i":7,"x":206.5,"y":290},{"s":"75a","i":8,"x":195,"y":255},{"s":"75a","i":9,"x":183.5,"y":209.4},{"s":"75a","i":10,"x":177.8,"y":174},{"s":"75a","i":11,"x":172,"y":133.7},{"s":"75a","i":12,"x":183.5,"y":98.4},{"s":"75a","i":13,"x":197.3,"y":75.7},
{"s":"75b","i":1,"x":232,"y":45.3},{"s":"75b","i":2,"x":295,"y":22.6},{"s":"75b","i":3,"x":352,"y":12.5},{"s":"75b","i":4,"x":432.6,"y":13.5},{"s":"75b","i":5,"x":570,"y":20},{"s":"75b","i":6,"x":685,"y":22.6},{"s":"75b","i":7,"x":753,"y":22.6},{"s":"75b","i":8,"x":868,"y":21},{"s":"75b","i":9,"x":983,"y":21},{"s":"75b","i":10,"x":1074.6,"y":27.6},{"s":"75b","i":11,"x":1155,"y":32.7},{"s":"75b","i":12,"x":1223.6,"y":36.7},{"s":"75b","i":13,"x":1315,"y":36.7},{"s":"75b","i":14,"x":1396,"y":31.7},{"s":"75b","i":15,"x":1476,"y":25},{"s":"75b","i":16,"x":1500,"y":24},
{"s":"80a","i":1,"x":352,"y":514},{"s":"80a","i":2,"x":327,"y":464},{"s":"80a","i":3,"x":298,"y":408.6},{"s":"80a","i":4,"x":286.7,"y":350},{"s":"80a","i":5,"x":258,"y":295},{"s":"80a","i":6,"x":249,"y":265},{"s":"80a","i":7,"x":252.3,"y":214.4},{"s":"80a","i":8,"x":252.3,"y":174},{"s":"80a","i":9,"x":258,"y":138.7},{"s":"80a","i":10,"x":264,"y":126},
{"s":"80b","i":1,"x":304,"y":95.8},{"s":"80b","i":2,"x":364,"y":80.6},{"s":"80b","i":3,"x":455.5,"y":75.6},{"s":"80b","i":4,"x":570,"y":68},{"s":"80b","i":5,"x":662,"y":63},{"s":"80b","i":6,"x":753,"y":57.5},{"s":"80b","i":7,"x":868,"y":54},{"s":"80b","i":8,"x":925.4,"y":50.4},{"s":"80b","i":9,"x":1040,"y":50.4},{"s":"80b","i":10,"x":1155,"y":55.4},{"s":"80b","i":11,"x":1258,"y":62},{"s":"80b","i":12,"x":1396,"y":62},{"s":"80b","i":13,"x":1500,"y":58},
{"s":"85a","i":1,"x":524,"y":509.5},{"s":"85a","i":2,"x":472.7,"y":469},{"s":"85a","i":3,"x":444,"y":434},{"s":"85a","i":4,"x":409.6,"y":383.3},{"s":"85a","i":5,"x":386.7,"y":343},{"s":"85a","i":6,"x":363.7,"y":307.7},{"s":"85a","i":7,"x":346.5,"y":277.4},{"s":"85a","i":8,"x":342,"y":257},{"s":"85a","i":9,"x":346.5,"y":232},{"s":"85a","i":10,"x":363.7,"y":206.8},{"s":"85a","i":11,"x":367,"y":189},
{"s":"85b","i":1,"x":415,"y":158.8},{"s":"85b","i":2,"x":478.4,"y":146.2},{"s":"85b","i":3,"x":558.7,"y":126},{"s":"85b","i":4,"x":639,"y":108.4},{"s":"85b","i":5,"x":696.4,"y":98.3},{"s":"85b","i":6,"x":753,"y":92.5},{"s":"85b","i":7,"x":902.5,"y":83},{"s":"85b","i":8,"x":960,"y":79.6},{"s":"85b","i":9,"x":1074.6,"y":79.6},{"s":"85b","i":10,"x":1235,"y":85.7},{"s":"85b","i":11,"x":1327,"y":93.2},{"s":"85b","i":12,"x":1419,"y":100.8},{"s":"85b","i":13,"x":1500,"y":112},
{"s":"90a","i":1,"x":1065.4,"y":436.3},{"s":"90a","i":2,"x":925.4,"y":429.8},{"s":"90a","i":3,"x":862.4,"y":423.7},{"s":"90a","i":4,"x":799.3,"y":408.6},{"s":"90a","i":5,"x":753.4,"y":380.8},{"s":"90a","i":6,"x":708,"y":343},{"s":"90a","i":7,"x":673.4,"y":307.7},{"s":"90a","i":8,"x":650.5,"y":277.4},{"s":"90a","i":9,"x":644.8,"y":257},{"s":"90a","i":10,"x":639,"y":216.8},
{"s":"90b","i":1,"x":673.4,"y":181.5},{"s":"90b","i":2,"x":702,"y":164},{"s":"90b","i":3,"x":753.4,"y":143.7},{"s":"90b","i":4,"x":787.8,"y":136},{"s":"90b","i":5,"x":879.6,"y":127},{"s":"90b","i":6,"x":971.3,"y":118.5},{"s":"90b","i":7,"x":1086,"y":118.5},{"s":"90b","i":8,"x":1200.7,"y":123.5},{"s":"90b","i":9,"x":1281,"y":136},{"s":"90b","i":10,"x":1338,"y":151},{"s":"90b","i":11,"x":1384,"y":176.5},{"s":"90b","i":12,"x":1413,"y":206.8},{"s":"90b","i":13,"x":1430,"y":242},{"s":"90b","i":14,"x":1437,"y":257},{"s":"90b","i":15,"x":1445,"y":287.5},
{"s":"70c","i":1,"x":1091.8,"y":0},{"s":"70c","i":2,"x":1155,"y":6.5},{"s":"70c","i":3,"x":1246.6,"y":11},{"s":"70c","i":4,"x":1327,"y":9},{"s":"70c","i":5,"x":1418.7,"y":0}
],
"tags":[{"x":54,"y":423,"t":"55"},{"x":82,"y":379,"t":"60"},{"x":111,"y":300,"t":"65"},{"x":162.8,"y":333,"t":"70"},{"x":204,"y":62,"t":"75"},{"x":269.7,"y":113,"t":"80"},{"x":377.5,"y":177.5,"t":"85"},{"x":648,"y":204,"t":"90"}]
},
"encoding":{
"x":{"field":"x","type":"quantitative","scale":{"domain":[0,1500],"nice":false,"zero":false},"title":"回転数[min-1]","axis":{"offset":25,"grid":false,"values":[0,50,100,150,200,250,300,350,400,450,500,550,600,650,700,750,800,850,900,950,1000,1050,1100,1150,1200,1250,1300,1350,1400,1450,1500],"format":"d","labelExpr":"datum.value % 250 == 0 ? datum.label : ''","labelOverlap":false,"labelFlush":false,"labelBound":false,"labelFont":"Liberation Mono","labelFontSize":14,"labelColor":"#111","labelPadding":7,"tickSize":0,"ticks":true,"tickColor":"#000","domainColor":"#000","titleFont":"Liberation Mono, Noto Sans CJK JP","titleFontSize":16,"titleFontWeight":"normal","titleColor":"#111","titlePadding":12,"encoding":{"ticks":{"y2":{"value":{"expr":"datum.value % 250 == 0 ? -10 : -5"}}}}}},
"y":{"field":"y","type":"quantitative","scale":{"domain":[0,600],"nice":false,"zero":false},"title":"トルク[Nm]","axis":{"offset":25,"grid":false,"values":[0,20,40,60,80,100,120,140,160,180,200,220,240,260,280,300,320,340,360,380,400,420,440,460,480,500,520,540,560,580,600],"format":"d","labelExpr":"datum.value % 100 == 0 ? datum.label : ''","labelOverlap":false,"labelFlush":false,"labelBound":false,"labelFont":"Liberation Mono","labelFontSize":14,"labelColor":"#111","labelPadding":7,"tickSize":0,"ticks":true,"tickColor":"#000","domainColor":"#000","titleFont":"Liberation Mono, Noto Sans CJK JP","titleFontSize":15,"titleFontWeight":"normal","titleColor":"#111","titlePadding":17,"encoding":{"ticks":{"x2":{"value":{"expr":"datum.value % 100 == 0 ? 10 : 5"}}}}}}
},
"layer":[
{"data":{"name":"fine"},"mark":{"type":"rect","width":7.8,"height":13.8},"encoding":{
"color":{"field":"e","type":"quantitative","scale":{"domain":[39.4,40,53.4,64,75.4,87.4,101.1],"range":["#000000","#000008","#0000ff","#00ffff","#00ff00","#ffff00","#ff0000"],"interpolate":"rgb"},"title":"効率 [%]","legend":{"orient":"none","legendX":461,"legendY":-15,"type":"gradient","values":[40,50,60,70,80,90,100],"format":"d","direction":"vertical","gradientLength":387,"gradientThickness":27,"gradientStrokeColor":"#111","gradientStrokeWidth":1.5,"labelFont":"Liberation Mono","labelFontSize":14,"labelColor":"#111","labelOffset":5,"titleFont":"Liberation Mono, Noto Sans CJK JP","titleFontSize":15,"titleFontWeight":"normal","titleColor":"#111","titlePadding":10,"encoding":{"title":{"dx":{"value":8}}}}}
}},
{"data":{"name":"low"},"mark":{"type":"rect","width":15,"height":7.1},"encoding":{"color":{"field":"e","type":"quantitative"}}},
{"data":{"name":"up"},"mark":{"type":"rect","width":15,"height":13.8},"encoding":{"color":{"field":"e","type":"quantitative"}}},
{"data":{"name":"edge"},"mark":{"type":"area","color":"white"},"encoding":{"y2":{"datum":600}}},
{"data":{"name":"lines"},"mark":{"type":"line","color":"#0a0a0a","strokeWidth":1.2},"encoding":{"detail":{"field":"s"},"order":{"field":"i","type":"quantitative"}}},
{"data":{"name":"tags"},"mark":{"type":"text","font":"Liberation Mono","fontSize":14,"color":"#111","align":"center","baseline":"middle"},"encoding":{"text":{"field":"t"}}},
{"data":{"name":"edge"},"mark":{"type":"line","color":"#ff0000","strokeWidth":1.5}}
]}
